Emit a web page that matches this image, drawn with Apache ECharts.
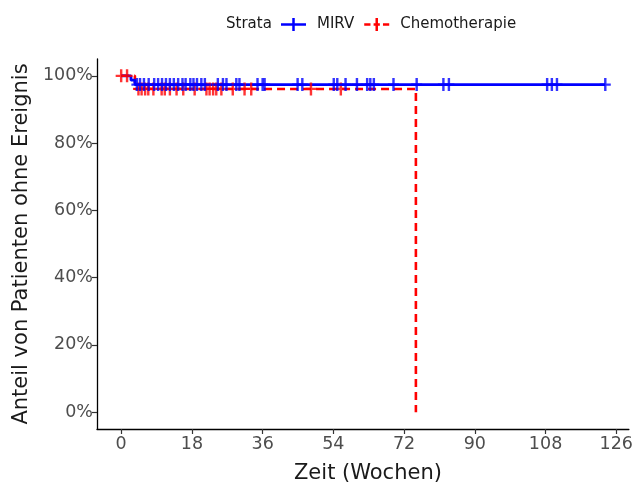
<!DOCTYPE html>
<html>
<head>
<meta charset="utf-8">
<script src="https://cdn.jsdelivr.net/npm/echarts@6/dist/echarts.min.js"></script>
<style>html,body{margin:0;padding:0;background:#fff}#c{width:636px;height:489px}</style>
</head>
<body>
<div id="c"></div>
<script>
// ---- data ----
const xTicks = [0, 18, 36, 54, 72, 90, 108, 126];
const yTicks = [0, 20, 40, 60, 80, 100];
// Kaplan-Meier steps: event times and survival (%) after each event
const mirvEventTimes = [2.5, 3.5];
const mirvEventSurv = [98.7, 97.4];
const mirvEnd = 123.2;
const mirvCensor = [4.0, 4.8, 5.8, 7.0, 8.4, 9.4, 10.4, 11.4, 12.4, 13.4, 14.5, 15.6, 16.4, 17.6, 18.4, 19.3, 20.4, 21.3, 24.6, 25.9, 26.8, 29.3, 30.1, 34.7, 36.0, 36.5, 44.9, 46.1, 54.1, 55.0, 57.1, 60.0, 62.6, 63.4, 64.3, 69.3, 75.2, 82.0, 83.4, 108.4, 109.6, 110.9, 123.2];
const chemoEventTimes = [3.5, 75.0];
const chemoEventSurv = [96.1, 0];
const chemoEnd = 75.0;
const chemoCensor = [0, 1.5, 4.4, 5.2, 6.1, 6.9, 8.2, 10.3, 11.1, 12.4, 14.1, 15.8, 18.7, 21.7, 22.5, 23.4, 24.2, 25.5, 28.4, 31.4, 33.1, 48.3, 55.9];

function stepPoints(times, surv, end) {
  const pts = [[0, 100]];
  let cur = 100;
  for (let i = 0; i < times.length; i++) {
    pts.push([times[i], cur]);
    cur = surv[i];
    pts.push([times[i], cur]);
  }
  if (end > times[times.length - 1]) pts.push([end, cur]);
  return pts;
}
function survAt(t, times, surv) {
  let cur = 100;
  for (let i = 0; i < times.length; i++) if (times[i] <= t) cur = surv[i];
  return cur;
}
const plusSym = 'path://M0,5.4L10,5.4L10,7.6L0,7.6Z M3.9,0L6.1,0L6.1,13L3.9,13Z';
const iconSolid = 'path://M0,5L24,5L24,7.4L0,7.4Z M10.8,0L13.2,0L13.2,12.4L10.8,12.4Z';
const iconDash = 'path://M0,5L6,5L6,7.4L0,7.4Z M9,5L15,5L15,7.4L9,7.4Z M18,5L24,5L24,7.4L18,7.4Z M10.8,0L13.2,0L13.2,12.4L10.8,12.4Z';

const font = 'DejaVu Sans';
const chart = echarts.init(document.getElementById('c'), null, {renderer: 'canvas'});
chart.setOption({
  animation: false,
  backgroundColor: '#fff',
  textStyle: {fontFamily: font},
  title: {text: 'Strata', left: 221, top: 8, textStyle: {fontFamily: font, fontSize: 15, fontWeight: 'normal', color: '#1a1a1a', lineHeight: 22}},
  legend: {
    left: 276, top: 12, itemWidth: 25, itemHeight: 13, itemGap: 10,
    textStyle: {fontFamily: font, fontSize: 15, color: '#1a1a1a', padding: [0, 0, 0, 6]},
    data: [
      {name: 'MIRV', icon: iconSolid},
      {name: 'Chemotherapie', icon: iconDash}
    ]
  },
  grid: {left: 97, right: 4, top: 59, bottom: 48},
  xAxis: {
    type: 'value', min: -6.15, max: 129.2,
    name: 'Zeit (Wochen)', nameLocation: 'middle', nameGap: 34,
    nameTextStyle: {fontFamily: font, fontSize: 21, color: '#1a1a1a', padding: [0, 0, 0, 10]},
    axisLine: {show: true, onZero: false, lineStyle: {color: '#000', width: 1.3}},
    axisTick: {show: true, length: 5, customValues: xTicks, lineStyle: {color: '#333', width: 1.2}},
    axisLabel: {customValues: xTicks, fontSize: 17.5, color: '#4d4d4d', margin: 6},
    splitLine: {show: false}
  },
  yAxis: {
    type: 'value', min: -5, max: 105,
    name: 'Anteil von Patienten ohne Ereignis', nameLocation: 'middle', nameGap: 62,
    nameTextStyle: {fontFamily: font, fontSize: 21, color: '#1a1a1a'},
    axisLine: {show: true, onZero: false, lineStyle: {color: '#000', width: 1.3}},
    axisTick: {show: true, length: 5, customValues: yTicks, lineStyle: {color: '#333', width: 1.2}},
    axisLabel: {customValues: yTicks, fontSize: 17.5, color: '#4d4d4d', margin: 4, formatter: v => v + '%'},
    splitLine: {show: false}
  },
  series: [
    {name: 'Chemotherapie', type: 'line', data: stepPoints(chemoEventTimes, chemoEventSurv, chemoEnd),
     showSymbol: false, symbol: 'none', color: '#ff0000', lineStyle: {color: '#ff0000', width: 2.6, type: [8, 5]}, z: 2},
    {name: 'MIRV', type: 'line', data: stepPoints(mirvEventTimes, mirvEventSurv, mirvEnd),
     showSymbol: false, symbol: 'none', color: '#0000ff', lineStyle: {color: '#0000ff', width: 2.8}, z: 3},
    {name: 'Chemotherapie', type: 'scatter', symbol: plusSym, symbolSize: [11, 13], color: '#ff0000',
     itemStyle: {color: '#ff0000'}, z: 4,
     data: chemoCensor.map(t => [t, survAt(t, chemoEventTimes, chemoEventSurv)])},
    {name: 'MIRV', type: 'scatter', symbol: plusSym, symbolSize: [11, 13], color: '#0000ff',
     itemStyle: {color: '#0000ff'}, z: 5,
     data: mirvCensor.map(t => [t, survAt(t, mirvEventTimes, mirvEventSurv)])}
  ]
});
</script>
</body>
</html>
